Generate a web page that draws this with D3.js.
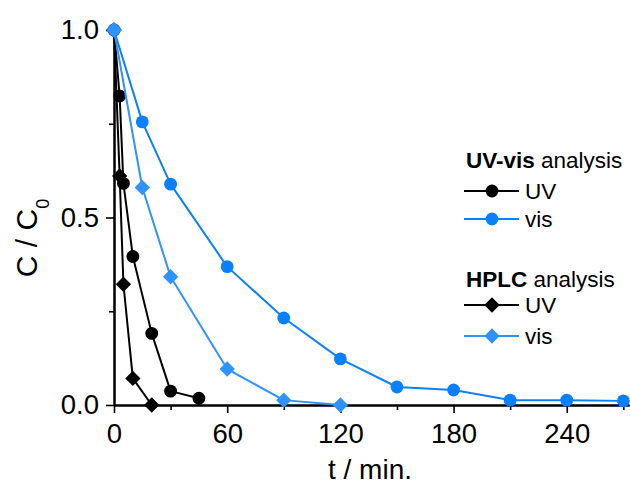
<!DOCTYPE html>
<html>
<head>
<meta charset="utf-8">
<script src="https://cdn.jsdelivr.net/npm/d3@7"></script>
<style>
  html, body { margin: 0; padding: 0; background: #fff; }
  svg { display: block; }
</style>
</head>
<body>
<svg id="chart" width="630" height="485"></svg>
<script>
// Time points (min) and relative concentration C/C0 for each series
const uvVisUV_t   = [0, 3, 5, 10, 20, 30, 45];
const uvVisUV_c   = [1.0, 0.824, 0.591, 0.396, 0.191, 0.037, 0.018];
const uvVisVis_t  = [0, 15, 30, 60, 90, 120, 150, 180, 210, 240, 270];
const uvVisVis_c  = [1.0, 0.755, 0.589, 0.369, 0.232, 0.123, 0.048, 0.040, 0.013, 0.013, 0.011];
const hplcUV_t    = [0, 3, 5, 10, 20];
const hplcUV_c    = [1.0, 0.611, 0.322, 0.071, 0.0];
const hplcVis_t   = [0, 15, 30, 60, 90, 120];
const hplcVis_c   = [1.0, 0.580, 0.342, 0.096, 0.013, 0.0];

const xMajorTicks = [0, 60, 120, 180, 240];
const xMinorTicks = [30, 90, 150, 210, 270];
const yMajorTicks = [0, 0.5, 1.0];
const yMinorTicks = [0.25, 0.75];

const seriesNames = ["UV", "vis", "UV", "vis"];
const groupTitles = [["UV-vis", " analysis"], ["HPLC", " analysis"]];

const BLACK = "#000000";
const BLUE_CIRCLE = "#0a80ff";
const BLUE_DIAMOND = "#2f93ff";

const series = [
  { t: uvVisUV_t,  c: uvVisUV_c,  color: BLACK,        shape: "circle"  },
  { t: uvVisVis_t, c: uvVisVis_c, color: BLUE_CIRCLE,  shape: "circle"  },
  { t: hplcUV_t,   c: hplcUV_c,   color: BLACK,        shape: "diamond" },
  { t: hplcVis_t,  c: hplcVis_c,  color: BLUE_DIAMOND, shape: "diamond" }
];

const svg = d3.select("#chart");

const x = d3.scaleLinear().domain([0, 273]).range([114, 629]);
const y = d3.scaleLinear().domain([0, 1]).range([405, 30]);

const textFont = "'Liberation Sans', Arial, Helvetica, sans-serif";

// Axes: labelled major ticks plus short unlabelled minor ticks
const xAxisG = svg.append("g").attr("transform", `translate(0,${y(0)})`);
xAxisG.call(d3.axisBottom(x).tickValues(xMajorTicks).tickFormat(d3.format("d"))
  .tickSize(8).tickSizeOuter(0).tickPadding(10));
const xMinorG = svg.append("g").attr("transform", `translate(0,${y(0)})`);
xMinorG.call(d3.axisBottom(x).tickValues(xMinorTicks).tickFormat("")
  .tickSize(5).tickSizeOuter(0));

const yAxisG = svg.append("g").attr("transform", `translate(${x(0)},0)`);
yAxisG.call(d3.axisLeft(y).tickValues(yMajorTicks).tickFormat(d3.format(".1f"))
  .tickSize(8).tickSizeOuter(0).tickPadding(7));
const yMinorG = svg.append("g").attr("transform", `translate(${x(0)},0)`);
yMinorG.call(d3.axisLeft(y).tickValues(yMinorTicks).tickFormat("")
  .tickSize(5).tickSizeOuter(0));

svg.selectAll(".domain").attr("stroke", "#000").attr("stroke-width", 2);
svg.selectAll(".tick line").attr("stroke", "#000").attr("stroke-width", 1.6);
svg.selectAll(".tick text")
  .attr("font-family", textFont)
  .attr("font-size", 27.5)
  .attr("fill", "#000");

// Axis titles
svg.append("text")
  .attr("x", 370).attr("y", 479)
  .attr("text-anchor", "middle")
  .attr("font-family", textFont).attr("font-size", 28)
  .text("t / min.");

const yTitle = svg.append("text")
  .attr("transform", "translate(37,238) rotate(-90)")
  .attr("text-anchor", "middle")
  .attr("font-family", textFont).attr("font-size", 30);
yTitle.append("tspan").text("C / C");
yTitle.append("tspan").attr("font-size", 18).attr("dy", 12).text("0");

// Markers
function drawMarker(g, cx, cy, shape, color) {
  if (shape === "circle") {
    g.append("circle").attr("cx", cx).attr("cy", cy).attr("r", 6.4).attr("fill", color);
  } else {
    g.append("path").attr("d", d3.symbol().type(d3.symbolDiamond2).size(150)())
      .attr("transform", `translate(${cx},${cy})`).attr("fill", color);
  }
}

const line = d3.line().x(d => x(d[0])).y(d => y(d[1]));

// Draw order: black series first, blue series on top
const order = [0, 2, 1, 3];
order.forEach(i => {
  const s = series[i];
  const pts = s.t.map((t, k) => [t, s.c[k]]);
  const g = svg.append("g");
  g.append("path").datum(pts).attr("d", line)
    .attr("fill", "none").attr("stroke", s.color).attr("stroke-width", 2)
    .attr("stroke-linejoin", "round");
  pts.forEach(p => drawMarker(g, x(p[0]), y(p[1]), s.shape, s.color));
});

// Legend
const legendRows = [
  { title: groupTitles[0], titleY: 168, rows: [{ s: 0, y: 191 }, { s: 1, y: 219 }] },
  { title: groupTitles[1], titleY: 287, rows: [{ s: 2, y: 305 }, { s: 3, y: 336 }] }
];
const legend = svg.append("g");
legendRows.forEach(grp => {
  const t = legend.append("text")
    .attr("x", 466).attr("y", grp.titleY)
    .attr("font-family", textFont).attr("font-size", 22.5);
  t.append("tspan").attr("font-weight", "bold").text(grp.title[0]);
  t.append("tspan").text(grp.title[1]);
  grp.rows.forEach(r => {
    const s = series[r.s];
    legend.append("line")
      .attr("x1", 464).attr("x2", 519).attr("y1", r.y).attr("y2", r.y)
      .attr("stroke", s.color).attr("stroke-width", 2);
    drawMarker(legend, 492, r.y, s.shape, s.color);
    legend.append("text")
      .attr("x", 525).attr("y", r.y + 8)
      .attr("font-family", textFont).attr("font-size", 22.5)
      .text(seriesNames[r.s]);
  });
});
</script>
</body>
</html>
